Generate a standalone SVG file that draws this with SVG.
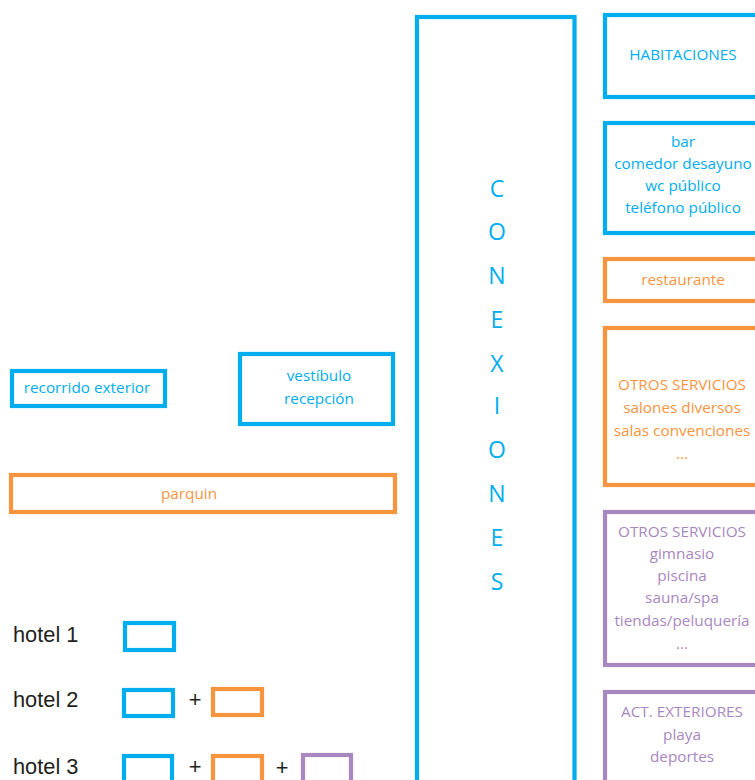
<svg xmlns="http://www.w3.org/2000/svg" width="755" height="780" viewBox="0 0 755 780">
  <style>
    .box { fill: none; stroke-width: 4.2; }
    .blue { stroke: #00AEEF; }
    .orange { stroke: #F7953F; }
    .purple { stroke: #A987C1; }
    .t { font-family: "Open Sans", "Noto Sans", "DejaVu Sans", sans-serif; font-size: 15.3px; text-anchor: middle; }
    .tb { fill: #00AEEF; }
    .to { fill: #F7953F; }
    .tp { fill: #A987C1; }
    .big { font-family: "Open Sans", "Noto Sans", sans-serif; font-size: 23px; fill: #00AEEF; text-anchor: middle; }
    .hotel { font-family: "Liberation Sans", Arial, sans-serif; font-size: 21.8px; fill: #231F20; }
  </style>

  <rect width="755" height="780" fill="#FFFFFF"/>

  <!-- central circulation spine -->
  <g id="conexiones">
    <rect class="box blue" x="417" y="17" width="157.5" height="800"/>
    <text class="big" x="497" y="197">C</text>
    <text class="big" x="497" y="240">O</text>
    <text class="big" x="497" y="284">N</text>
    <text class="big" x="497" y="328">E</text>
    <text class="big" x="497" y="372">X</text>
    <text class="big" x="497" y="414">I</text>
    <text class="big" x="497" y="458">O</text>
    <text class="big" x="497" y="502">N</text>
    <text class="big" x="497" y="546">E</text>
    <text class="big" x="497" y="590">S</text>
  </g>

  <!-- right column: program areas -->
  <g id="habitaciones">
    <rect class="box blue" x="605" y="15" width="200" height="82"/>
    <text class="t tb" x="683" y="60">HABITACIONES</text>
  </g>
  <g id="servicios-basicos">
    <rect class="box blue" x="605" y="123" width="200" height="110"/>
    <text class="t tb" x="683" y="147">bar</text>
    <text class="t tb" x="683" y="169">comedor desayuno</text>
    <text class="t tb" x="683" y="191">wc público</text>
    <text class="t tb" x="683" y="213">teléfono público</text>
  </g>
  <g id="restaurante">
    <rect class="box orange" x="605" y="259" width="200" height="42"/>
    <text class="t to" x="683" y="285">restaurante</text>
  </g>
  <g id="otros-servicios-1">
    <rect class="box orange" x="605" y="328" width="200" height="157"/>
    <text class="t to" x="682" y="390">OTROS SERVICIOS</text>
    <text class="t to" x="682" y="413">salones diversos</text>
    <text class="t to" x="682" y="436">salas convenciones</text>
    <text class="t to" x="682" y="459">...</text>
  </g>
  <g id="otros-servicios-2">
    <rect class="box purple" x="605" y="512" width="200" height="153"/>
    <text class="t tp" x="682" y="537">OTROS SERVICIOS</text>
    <text class="t tp" x="682" y="559">gimnasio</text>
    <text class="t tp" x="682" y="581">piscina</text>
    <text class="t tp" x="682" y="603">sauna/spa</text>
    <text class="t tp" x="682" y="626">tiendas/peluquería</text>
    <text class="t tp" x="682" y="649">...</text>
  </g>
  <g id="act-exteriores">
    <rect class="box purple" x="605" y="692" width="200" height="150"/>
    <text class="t tp" x="682" y="717">ACT. EXTERIORES</text>
    <text class="t tp" x="682" y="740">playa</text>
    <text class="t tp" x="682" y="762">deportes</text>
  </g>

  <!-- left side: arrival -->
  <g id="recorrido-exterior">
    <rect class="box blue" x="12" y="371" width="153" height="35"/>
    <text class="t tb" x="87" y="393">recorrido exterior</text>
  </g>
  <g id="vestibulo">
    <rect class="box blue" x="240" y="354" width="153" height="70"/>
    <text class="t tb" x="319" y="381">vestíbulo</text>
    <text class="t tb" x="319" y="404">recepción</text>
  </g>
  <g id="parquin">
    <rect class="box orange" x="11" y="475" width="384" height="37"/>
    <text class="t to" x="189" y="499">parquin</text>
  </g>

  <!-- legend -->
  <g id="hotel-1">
    <text class="hotel" x="13" y="642">hotel 1</text>
    <rect class="box blue" x="125" y="623" width="49" height="27"/>
  </g>
  <g id="hotel-2">
    <text class="hotel" x="13" y="707">hotel 2</text>
    <rect class="box blue" x="124" y="690" width="49" height="26"/>
    <text class="hotel" x="195" y="707" text-anchor="middle">+</text>
    <rect class="box orange" x="213" y="689" width="49" height="26"/>
  </g>
  <g id="hotel-3">
    <text class="hotel" x="13" y="774">hotel 3</text>
    <rect class="box blue" x="124" y="756" width="48" height="40"/>
    <text class="hotel" x="195" y="774" text-anchor="middle">+</text>
    <rect class="box orange" x="213" y="756" width="49" height="40"/>
    <text class="hotel" x="282" y="775" text-anchor="middle">+</text>
    <rect class="box purple" x="303" y="755" width="48" height="40"/>
  </g>

  <g id="connectors"></g>
</svg>
